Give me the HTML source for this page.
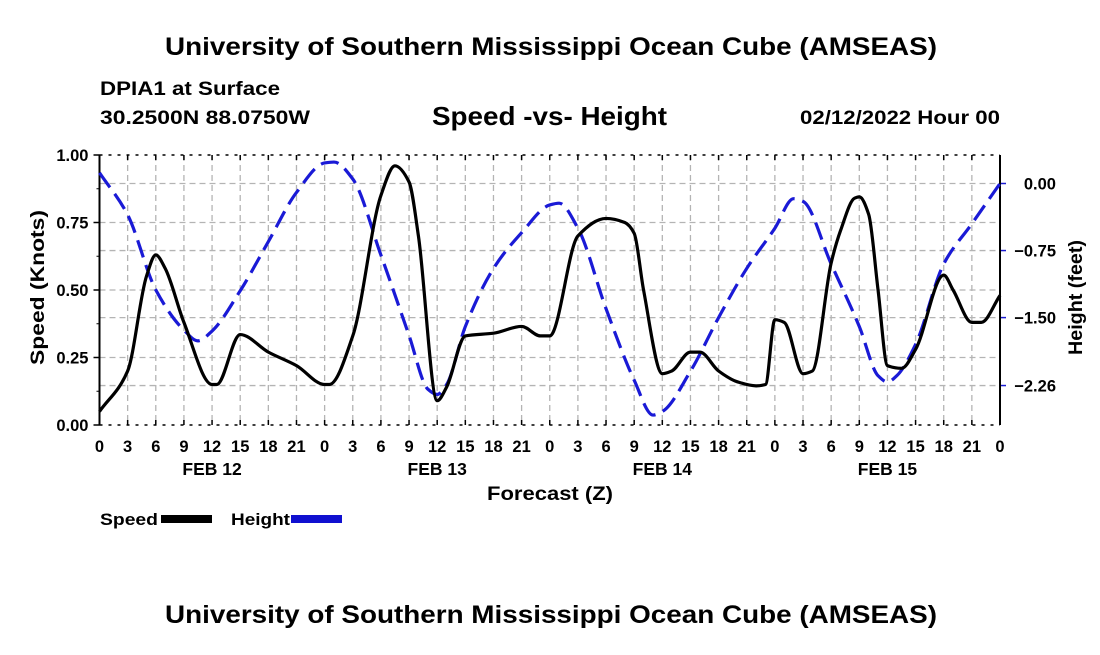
<!DOCTYPE html>
<html><head><meta charset="utf-8"><style>
body{margin:0;background:#fff;}
svg text{font-family:"Liberation Sans",sans-serif;font-weight:bold;fill:#000;}
</style></head><body>
<svg id="c" width="1100" height="650" xmlns="http://www.w3.org/2000/svg">
<rect width="1100" height="650" fill="#fff"/>
<text x="165" y="55" font-size="25" textLength="772" lengthAdjust="spacingAndGlyphs">University of Southern Mississippi Ocean Cube (AMSEAS)</text>
<text x="100" y="95" font-size="19" textLength="180" lengthAdjust="spacingAndGlyphs">DPIA1 at Surface</text>
<text x="100" y="124" font-size="19" textLength="210" lengthAdjust="spacingAndGlyphs">30.2500N  88.0750W</text>
<text x="432" y="125" font-size="26" textLength="235" lengthAdjust="spacingAndGlyphs">Speed -vs- Height</text>
<text x="800" y="124" font-size="19" textLength="200" lengthAdjust="spacingAndGlyphs">02/12/2022 Hour 00</text>
<g id="grid"></g>
<g id="axes"></g>
<g id="series"></g>
<text x="487" y="500" font-size="19" textLength="126" lengthAdjust="spacingAndGlyphs">Forecast (Z)</text>
<text transform="translate(44,365) rotate(-90)" font-size="19" textLength="155" lengthAdjust="spacingAndGlyphs">Speed (Knots)</text>
<text transform="translate(1082,355) rotate(-90)" font-size="19" textLength="115" lengthAdjust="spacingAndGlyphs">Height (feet)</text>
<g>
<text x="100" y="525" font-size="17" textLength="58" lengthAdjust="spacingAndGlyphs">Speed</text>
<rect x="161" y="515" width="51" height="8" fill="#000"/>
<text x="231" y="525" font-size="17" textLength="59" lengthAdjust="spacingAndGlyphs">Height</text>
<rect x="291" y="515" width="51" height="8" fill="#1010d0"/>
</g>
<text x="165" y="623" font-size="25" textLength="772" lengthAdjust="spacingAndGlyphs">University of Southern Mississippi Ocean Cube (AMSEAS)</text>
</svg>
<script>
const speedHours=[0,3,5,6,7,9,12,12.5,15,18,21,24,24.5,27,30,31.5,33,34,36,37,39,42,45,47,48,51,54,56,57,58,60,61,63,64,66,68,70,71,72,73,75,76,78,79,80.5,81,82,83,84,85.5,87,90,91,93,94,96];
const speedValues=[0.05,0.20,0.55,0.63,0.58,0.38,0.15,0.15,0.335,0.27,0.22,0.15,0.15,0.33,0.85,0.96,0.90,0.70,0.09,0.14,0.33,0.34,0.365,0.33,0.33,0.70,0.765,0.75,0.71,0.50,0.19,0.20,0.27,0.27,0.20,0.16,0.145,0.15,0.39,0.38,0.19,0.20,0.60,0.72,0.84,0.845,0.78,0.50,0.22,0.21,0.28,0.555,0.50,0.38,0.38,0.48];
const heightHours=[0,3,6,9,10.5,12,15,18,21,24,25,27,30,33,35,36,37,39,42,45,48,49,51,54,57,59,60,63,66,69,72,74,75,78,81,83,84,85,87,90,93,96];
const heightValues=[0.12,-0.35,-1.19,-1.64,-1.76,-1.65,-1.2,-0.65,-0.1,0.23,0.24,0.05,-0.8,-1.7,-2.3,-2.36,-2.25,-1.6,-0.95,-0.55,-0.24,-0.22,-0.5,-1.4,-2.2,-2.59,-2.55,-2.1,-1.5,-0.95,-0.5,-0.17,-0.2,-0.9,-1.6,-2.15,-2.22,-2.15,-1.8,-0.9,-0.45,0.0];
const speedTicks=["0.00","0.25","0.50","0.75","1.00"];
const heightTicks=[0,-0.75,-1.5,-2.26];
const heightTickLabels=["0.00","\u22120.75","\u22121.50","\u22122.26"];
const dayLabels=["FEB 12","FEB 13","FEB 14","FEB 15"];
const L=99.5,R=1000,T=155,B=425;
const x=h=>L+(R-L)*h/96;
const ySpeed=v=>B-(B-T)*v;
const yHeight=v=>183.5-89.4*v;
const NS="http://www.w3.org/2000/svg";
function mk(tag,attrs,parent){const e=document.createElementNS(NS,tag);for(const k in attrs)e.setAttribute(k,attrs[k]);parent.appendChild(e);return e;}
const grid=document.getElementById('grid'),axes=document.getElementById('axes'),series=document.getElementById('series');
for(let h=3;h<96;h+=3){const l=mk('line',{x1:x(h),x2:x(h),y1:T,y2:B,stroke:'#b4b4b4','stroke-width':1.3,'stroke-dasharray':'6,4'},grid);
}
speedTicks.forEach((t,i)=>{const y=ySpeed(+t);if(i>0&&i<4){const l=mk('line',{x1:L,x2:R,y1:y,y2:y,stroke:'#b4b4b4','stroke-width':1.3,'stroke-dasharray':'6,4'},grid);
}
mk('line',{x1:L-6,x2:L,y1:y,y2:y,stroke:'#000','stroke-width':1.5},axes);
const tx=mk('text',{x:L-11,y:y+6,'font-size':16.5,'text-anchor':'end'},axes);tx.textContent=t;
});
for(let v=0.125;v<1;v+=0.25)mk('line',{x1:L-3,x2:L,y1:ySpeed(v),y2:ySpeed(v),stroke:'#000','stroke-width':1},axes);
heightTicks.forEach((v,i)=>{const y=yHeight(v);const l=mk('line',{x1:L,x2:R,y1:y,y2:y,stroke:'#b4b4b4','stroke-width':1.3,'stroke-dasharray':'6,4'},grid);

mk('line',{x1:R,x2:R+6,y1:y,y2:y,stroke:'#1a1ad0','stroke-width':1.5},axes);
const tx=mk('text',{x:1056,y:y+6,'font-size':16.5,'text-anchor':'end'},axes);tx.textContent=heightTickLabels[i];
});
mk('line',{x1:L,x2:R,y1:T,y2:T,stroke:'#000','stroke-width':1.5,'stroke-dasharray':'3,6'},axes);
mk('line',{x1:L,x2:R,y1:B,y2:B,stroke:'#000','stroke-width':1.5,'stroke-dasharray':'3,6'},axes);
mk('line',{x1:L,x2:L,y1:T,y2:B,stroke:'#000','stroke-width':2},axes);
mk('line',{x1:R,x2:R,y1:T,y2:B,stroke:'#000','stroke-width':2},axes);
for(let h=0;h<=96;h+=3){[T,B].forEach(y=>mk('line',{x1:x(h),x2:x(h),y1:y===T?T:B-5,y2:y===T?T+5:B,stroke:'#000','stroke-width':1.5},axes));
const tx=mk('text',{x:x(h),y:452,'font-size':16.5,'text-anchor':'middle'},axes);tx.textContent=String(h%24);
}
dayLabels.forEach((d,i)=>{const tx=mk('text',{x:x(i*24+12),y:475,'font-size':17.5,'text-anchor':'middle'},axes);tx.textContent=d;
});
function monotone(pts){const n=pts.length,dx=[],s=[],m=new Array(n);
for(let i=0;i<n-1;i++){dx[i]=pts[i+1][0]-pts[i][0];s[i]=(pts[i+1][1]-pts[i][1])/dx[i];}
m[0]=s[0];m[n-1]=s[n-2];
for(let i=1;i<n-1;i++){if(s[i-1]*s[i]<=0)m[i]=0;else{const w1=2*dx[i]+dx[i-1],w2=dx[i]+2*dx[i-1];m[i]=(w1+w2)/(w1/s[i-1]+w2/s[i]);}}
let d=`M${pts[0][0]},${pts[0][1]}`;
for(let i=0;i<n-1;i++){const h=dx[i]/3;d+=`C${pts[i][0]+h},${pts[i][1]+m[i]*h} ${pts[i+1][0]-h},${pts[i+1][1]-m[i+1]*h} ${pts[i+1][0]},${pts[i+1][1]}`;}
return d;}
const hp=mk('path',{d:monotone(heightHours.map((h,i)=>[x(h),yHeight(heightValues[i])])),fill:'none',stroke:'#1a1ad6','stroke-width':3.2,'stroke-dasharray':'18,8'},series);

const sp=mk('path',{d:monotone(speedHours.map((h,i)=>[x(h),ySpeed(speedValues[i])])),fill:'none',stroke:'#000','stroke-width':3.2,'stroke-linejoin':'round'},series);

</script>
</body></html>
